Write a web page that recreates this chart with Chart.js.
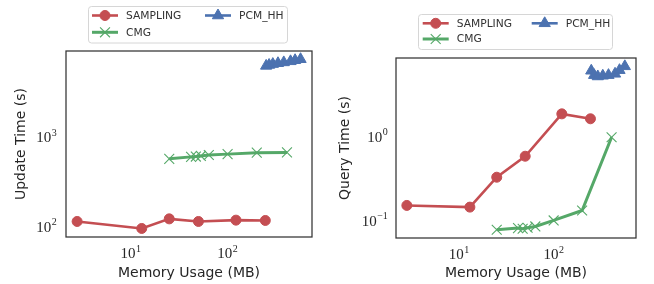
<!DOCTYPE html>
<html>
<head>
<meta charset="utf-8">
<script src="https://cdn.jsdelivr.net/npm/chart.js@4.4.1/dist/chart.umd.min.js"></script>
<style>
  html, body { margin: 0; padding: 0; background: #fff; }
  #wrap { position: relative; width: 654px; height: 284px; }
  canvas { position: absolute; top: 0; }
  #left { left: 0; }
  #right { left: 330px; }
</style>
</head>
<body>
<div id="wrap">
  <canvas id="left" width="330" height="284"></canvas>
  <canvas id="right" width="324" height="284"></canvas>
</div>
<script>
// memoria usada (MB) de cada configuracion
const samplingMem = [2.8, 13, 25, 50, 122, 245];
const cmgMem = [25, 42, 47, 53, 64, 100, 200, 410];
const pcmMem = [250, 268, 293, 331, 380, 446, 497, 566];

// tiempo de actualizacion (s)
const samplingUpdate = [115, 96, 123, 115, 119, 118];
const cmgUpdate = [580, 610, 615, 625, 640, 655, 680, 685];
const pcmUpdate = [6400, 6550, 6700, 6850, 7000, 7200, 7400, 7600];

// tiempo de consulta (s)
const samplingQuery = [0.154, 0.147, 0.334, 0.594, 1.9, 1.66];
const cmgQuery = [0.079, 0.0826, 0.0812, 0.0834, 0.0865, 0.102, 0.134, 1.0];
const pcmQuery = [6.2, 5.5, 5.3, 5.4, 5.5, 5.7, 6.3, 7.0];

const seriesNames = ['SAMPLING', 'CMG', 'PCM_HH'];
const memTicks = [10, 100];
const updateTicks = [100, 1000];
const queryTicks = [0.1, 1];

const RED = '#C44E52', GREEN = '#55A868', BLUE = '#4C72B0';
const INK = '#262626';

const toPoints = (xs, ys) => xs.map((x, i) => ({ x: x, y: ys[i] }));

// marco completo del area de dibujo
const framePlugin = {
    id: 'frame',
    afterDatasetsDraw: (chart) => {
        const { ctx, chartArea: a } = chart;
        ctx.save();
        ctx.strokeStyle = '#333333';
        ctx.lineWidth = 1.25;
        ctx.strokeRect(a.left, a.top, a.right - a.left, a.bottom - a.top);
        ctx.restore();
    }
};

// etiquetas 10^n con exponente elevado, colocadas con las escalas del grafico
const powTicks = {
    id: 'powTicks',
    afterDraw: (chart, args, opts) => {
        const ctx = chart.ctx;
        const baseFont = '15px "Liberation Serif"';
        const expFont = '10px "Liberation Serif"';
        const label = (v) => {
            const e = Math.round(Math.log10(v));
            return { base: '10', exp: e < 0 ? '\u2212' + (-e) : String(e) };
        };
        const measure = (l) => {
            ctx.font = baseFont;
            const wb = ctx.measureText(l.base).width;
            ctx.font = expFont;
            const we = ctx.measureText(l.exp).width;
            return { wb: wb, we: we };
        };
        const draw = (l, left, baseline, m) => {
            ctx.font = baseFont;
            ctx.fillText(l.base, left, baseline);
            ctx.font = expFont;
            ctx.fillText(l.exp, left + m.wb + 0.5, baseline - 6.6);
        };
        ctx.save();
        ctx.fillStyle = INK;
        ctx.textBaseline = 'alphabetic';
        ctx.textAlign = 'left';
        const xs = chart.scales.x, ys = chart.scales.y, a = chart.chartArea;
        opts.xTicks.forEach(v => {
            const l = label(v), m = measure(l);
            const px = xs.getPixelForValue(v);
            draw(l, px - (m.wb + m.we + 0.5) / 2, a.bottom + 21.3, m);
        });
        opts.yTicks.forEach(v => {
            const l = label(v), m = measure(l);
            const py = ys.getPixelForValue(v);
            draw(l, a.left - opts.yGap - (m.wb + m.we + 0.5), py + 4.7, m);
        });
        ctx.restore();
    }
};

// leyenda en dos columnas dentro de un recuadro
const boxLegend = {
    id: 'boxLegend',
    afterDraw: (chart, args, opts) => {
        const ctx = chart.ctx;
        ctx.save();
        ctx.fillStyle = 'rgba(255,255,255,0.8)';
        ctx.strokeStyle = '#d6d6d6';
        ctx.lineWidth = 1;
        ctx.beginPath();
        ctx.roundRect(opts.x, opts.y, opts.w, opts.h, 3);
        ctx.fill();
        ctx.stroke();

        ctx.font = '10.7px "DejaVu Sans"';
        ctx.textBaseline = 'middle';
        chart.data.datasets.forEach((ds, i) => {
            const x0 = opts.cols[Math.floor(i / 2)];
            const y0 = opts.rows[i % 2];
            ctx.strokeStyle = ds.borderColor;
            ctx.fillStyle = ds.borderColor;
            ctx.lineWidth = ds.borderWidth;
            ctx.beginPath();
            ctx.moveTo(x0, y0);
            ctx.lineTo(x0 + 26, y0);
            ctx.stroke();
            ctx.lineWidth = ds.pointBorderWidth;
            Chart.helpers.drawPoint(ctx, {
                pointStyle: ds.pointStyle,
                radius: ds.pointRadius,
                rotation: 0,
                borderWidth: ds.pointBorderWidth
            }, x0 + 13, y0);
            ctx.fillStyle = '#333333';
            ctx.fillText(ds.label, x0 + 34, y0 + 0.5);
        });
        ctx.restore();
    }
};

const makeDatasets = (samplingY, cmgY, pcmY) => [
    {
        label: seriesNames[0], data: toPoints(samplingMem, samplingY),
        borderColor: RED, backgroundColor: RED, borderWidth: 2.6,
        pointStyle: 'circle', pointRadius: 5, pointBorderWidth: 1, order: 3
    },
    {
        label: seriesNames[1], data: toPoints(cmgMem, cmgY),
        borderColor: GREEN, backgroundColor: GREEN, borderWidth: 3,
        pointStyle: 'crossRot', pointRadius: 7, pointBorderWidth: 1.1, order: 2
    },
    {
        label: seriesNames[2], data: toPoints(pcmMem, pcmY),
        borderColor: BLUE, backgroundColor: BLUE, borderWidth: 2.6,
        pointStyle: 'triangle', pointRadius: 6.5, pointBorderWidth: 1, order: 1
    }
];

const createChart = (ctx, cfg) => {
    const config = {
        type: 'line',
        data: { datasets: makeDatasets(cfg.sampling, cfg.cmg, cfg.pcm) },
        options: {
            responsive: false,
            animation: false,
            events: [],
            layout: { padding: { left: 0, right: cfg.padRight, top: cfg.padTop, bottom: 0 } },
            elements: { line: { tension: 0 } },
            scales: {
                x: {
                    type: 'logarithmic',
                    min: 2.15,
                    max: 743,
                    grid: { display: false, drawTicks: false },
                    border: { display: false },
                    afterBuildTicks: (s) => { s.ticks = memTicks.map(v => ({ value: v })); },
                    afterFit: (s) => { s.height = cfg.xHeight; },
                    ticks: { display: false },
                    title: {
                        display: true,
                        text: 'Memory Usage (MB)',
                        color: INK,
                        font: { family: '"DejaVu Sans"', size: 14 },
                        padding: { top: 0, bottom: 2.6 }
                    }
                },
                y: {
                    type: 'logarithmic',
                    min: cfg.yMin,
                    max: cfg.yMax,
                    grid: { display: false, drawTicks: false },
                    border: { display: false },
                    afterBuildTicks: (s) => { s.ticks = cfg.yTicks.map(v => ({ value: v })); },
                    afterFit: (s) => { s.width = 66; },
                    ticks: { display: false },
                    title: {
                        display: true,
                        text: cfg.yTitle,
                        color: INK,
                        font: { family: '"DejaVu Sans"', size: 14 },
                        padding: { top: cfg.yTitlePad, bottom: 0 }
                    }
                }
            },
            plugins: {
                legend: { display: false },
                tooltip: { enabled: false },
                boxLegend: cfg.legend,
                powTicks: { xTicks: memTicks, yTicks: cfg.yTicks, yGap: cfg.yGap }
            }
        },
        plugins: [framePlugin, powTicks, boxLegend]
    };
    return new Chart(ctx, config);
};

createChart(document.getElementById('left'), {
    sampling: samplingUpdate, cmg: cmgUpdate, pcm: pcmUpdate,
    yMin: 77, yMax: 9400, yTicks: updateTicks,
    yTitle: 'Update Time (s)', yTitlePad: 13.3, yGap: 9.3,
    padTop: 51, padRight: 18, xHeight: 47,
    legend: { x: 88.5, y: 6.5, w: 199, h: 36.5, cols: [92, 205], rows: [15.5, 32.3] }
});

createChart(document.getElementById('right'), {
    sampling: samplingQuery, cmg: cmgQuery, pcm: pcmQuery,
    yMin: 0.063, yMax: 8.8, yTicks: queryTicks,
    yTitle: 'Query Time (s)', yTitlePad: 6.6, yGap: 8.2,
    padTop: 58, padRight: 18, xHeight: 46,
    legend: { x: 88.5, y: 14.5, w: 194, h: 35, cols: [92.7, 201.7], rows: [23.3, 39] }
});
</script>
</body>
</html>
